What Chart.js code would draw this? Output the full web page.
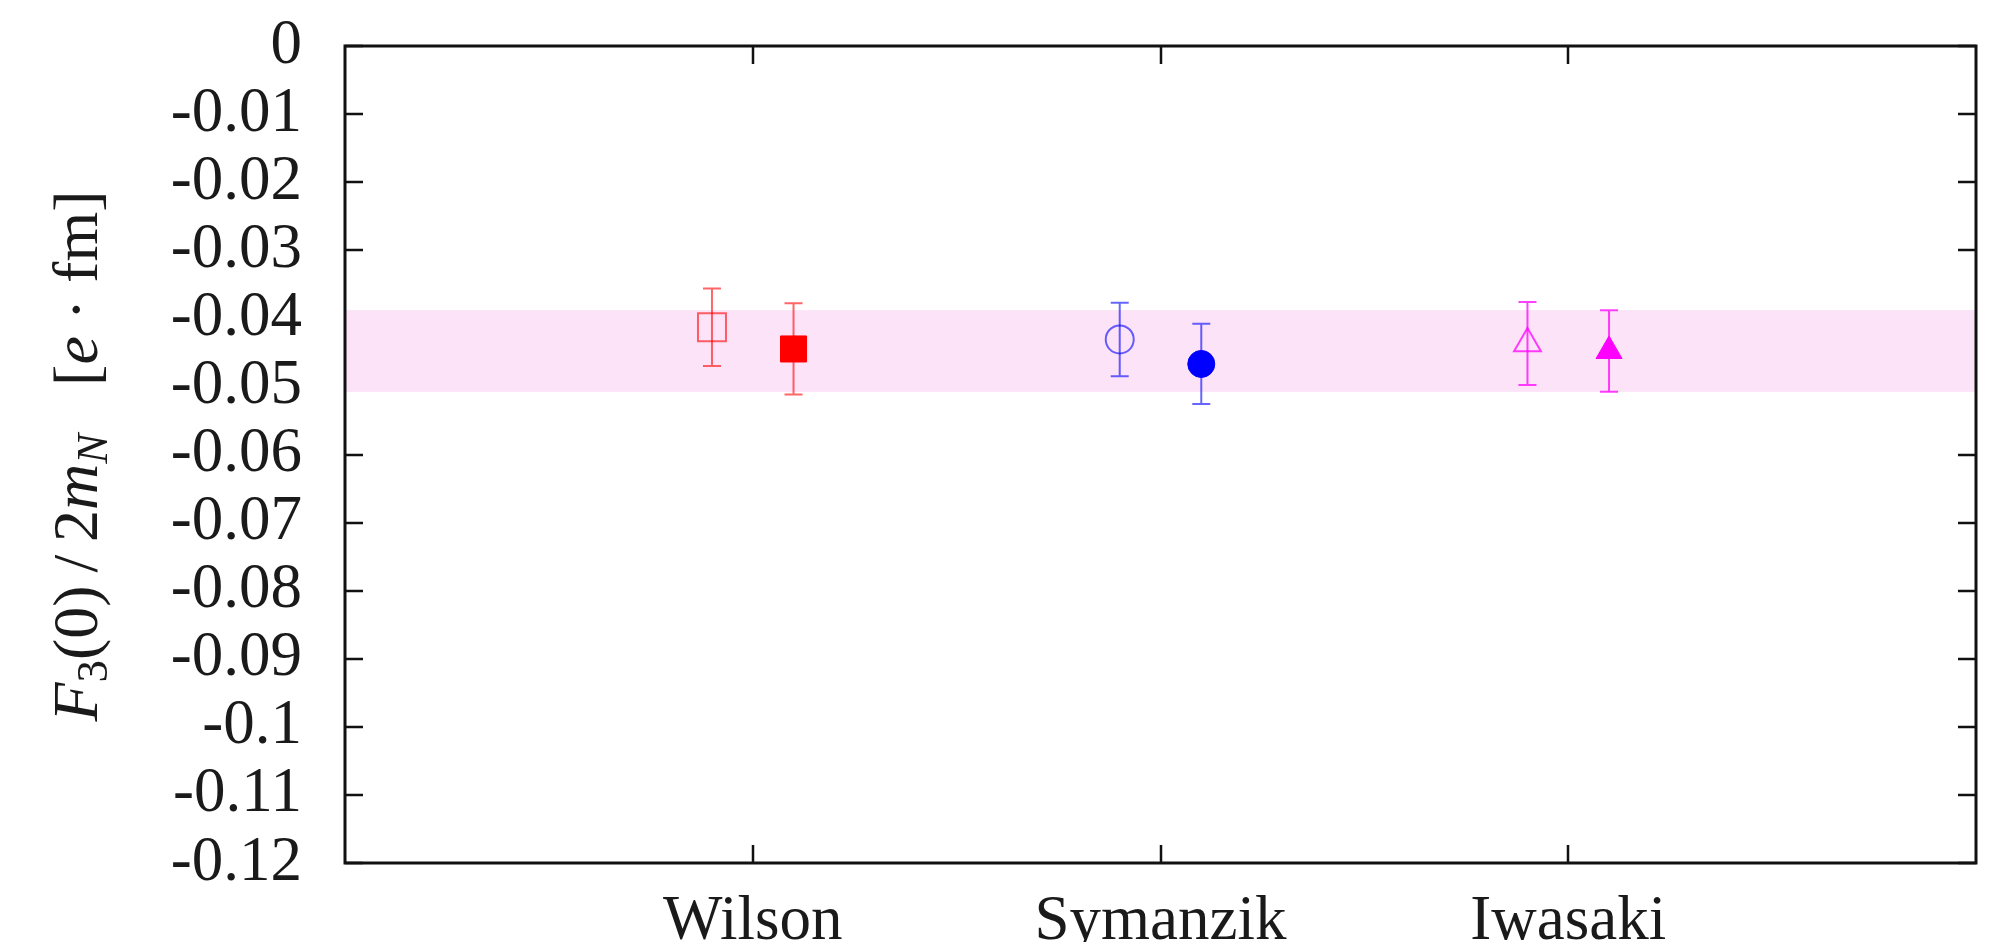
<!DOCTYPE html>
<html>
<head>
<meta charset="utf-8">
<title>F3(0)/2mN</title>
<script src="https://cdn.jsdelivr.net/npm/chart.js@4.4.0/dist/chart.umd.min.js"></script>
<style>
  body { margin: 0; background: #fff; }
  #wrap { width: 1999px; height: 942px; }
</style>
</head>
<body>
<div id="wrap"><canvas id="myChart" width="1999" height="942"></canvas></div>
<script>
// lattice actions on the x axis
const categories = ['Wilson', 'Symanzik', 'Iwasaki'];

// open symbols (left of each tick) and filled symbols (right)
const openValues = [-0.0413, -0.0431, -0.0437];
const openErrors = [0.0057, 0.0054, 0.0061];
const filledValues = [-0.0445, -0.0467, -0.0448];
const filledErrors = [0.0067, 0.0059, 0.0060];

// shaded band (lower, upper)
const bandRange = [-0.0508, -0.0388];

// y axis ticks
const yMin = -0.12;
const yMax = 0;
const yStep = 0.01;

const shift = 0.1;
const solid = ['#ff0000', '#0000ff', '#ff00ff'];
const faint = ['rgba(255,0,0,0.6)', 'rgba(0,0,255,0.6)', 'rgba(255,0,255,0.75)'];
const shapes = ['rect', 'circle', 'triangle'];
const serif = '"Liberation Serif", "Times New Roman", serif';

const framePlugin = {
    id: 'frame',
    beforeDatasetsDraw(chart) {
        const { ctx, chartArea: a, scales: { x, y } } = chart;
        ctx.save();
        // inward ticks
        ctx.strokeStyle = '#111';
        ctx.lineWidth = 2.5;
        ctx.beginPath();
        y.ticks.forEach(t => {
            const py = Math.round(y.getPixelForValue(t.value));
            ctx.moveTo(a.left, py); ctx.lineTo(a.left + 18, py);
            ctx.moveTo(a.right, py); ctx.lineTo(a.right - 18, py);
        });
        x.ticks.forEach(t => {
            const px = Math.round(x.getPixelForValue(t.value));
            ctx.moveTo(px, a.bottom); ctx.lineTo(px, a.bottom - 18);
            ctx.moveTo(px, a.top); ctx.lineTo(px, a.top + 18);
        });
        ctx.stroke();

        // band
        const y1 = y.getPixelForValue(bandRange[1]);
        const y0 = y.getPixelForValue(bandRange[0]);
        ctx.fillStyle = 'rgb(252,227,248)';
        ctx.fillRect(a.left, y1, a.right - a.left, y0 - y1);

        // error bars
        const errs = [openErrors, filledErrors];
        const vals = [openValues, filledValues];
        errs.forEach((errList, d) => {
            const meta = chart.getDatasetMeta(d);
            meta.data.forEach((pt, i) => {
                const top = y.getPixelForValue(vals[d][i] + errList[i]);
                const bot = y.getPixelForValue(vals[d][i] - errList[i]);
                ctx.strokeStyle = faint[i];
                ctx.lineWidth = 2;
                ctx.beginPath();
                ctx.moveTo(pt.x, top); ctx.lineTo(pt.x, bot);
                ctx.moveTo(pt.x - 9, top); ctx.lineTo(pt.x + 9, top);
                ctx.moveTo(pt.x - 9, bot); ctx.lineTo(pt.x + 9, bot);
                ctx.stroke();
            });
        });
        ctx.restore();
    },
    afterDatasetsDraw(chart) {
        const { ctx, chartArea: a } = chart;
        ctx.save();
        ctx.strokeStyle = '#111';
        ctx.lineWidth = 3;
        ctx.strokeRect(a.left, a.top, a.right - a.left, a.bottom - a.top);
        ctx.restore();
    },
    afterDraw(chart) {
        // y axis title with italics and subscripts
        const { ctx } = chart;
        const size = 64;
        const parts = [
            { t: 'F', it: true },
            { t: '3', sub: true },
            { t: '(0)\u2009/\u20092' },
            { t: 'm', it: true },
            { t: 'N', it: true, sub: true },
            { t: '   [' },
            { t: 'e', it: true },
            { t: ' \u00b7 fm]' }
        ];
        const fontOf = p => (p.it ? 'italic ' : '') + (p.sub ? size * 0.7 : size) + 'px ' + serif;
        let total = 0;
        parts.forEach(p => { ctx.font = fontOf(p); p.w = ctx.measureText(p.t).width; total += p.w; });
        ctx.save();
        ctx.translate(97, 456);
        ctx.rotate(-Math.PI / 2);
        ctx.fillStyle = '#1a1a1a';
        ctx.textBaseline = 'alphabetic';
        let cx = -total / 2;
        parts.forEach(p => {
            ctx.font = fontOf(p);
            ctx.fillText(p.t, cx, p.sub ? 10 : 0);
            cx += p.w;
        });
        ctx.restore();
    }
};

const chartContext = document.getElementById('myChart').getContext('2d');
new Chart(chartContext, {
    type: 'scatter',
    data: {
        datasets: [
            {
                data: openValues.map((v, i) => ({ x: i + 1 - shift, y: v })),
                pointStyle: shapes,
                pointRadius: [19.8, 14, 15.5],
                backgroundColor: 'rgba(0,0,0,0)',
                borderColor: faint,
                borderWidth: 2
            },
            {
                data: filledValues.map((v, i) => ({ x: i + 1 + shift, y: v })),
                pointStyle: shapes,
                pointRadius: [18.4, 13.5, 15],
                backgroundColor: solid,
                borderColor: solid,
                borderWidth: 1
            }
        ]
    },
    options: {
        responsive: false,
        devicePixelRatio: 1,
        animation: false,
        layout: { padding: { top: 46, right: 23, left: 0, bottom: 0 } },
        plugins: { legend: { display: false }, tooltip: { enabled: false } },
        scales: {
            x: {
                type: 'linear',
                min: 0,
                max: 4,
                grid: { display: false },
                border: { display: false },
                afterBuildTicks: scale => { scale.ticks = categories.map((c, i) => ({ value: i + 1 })); },
                afterFit: scale => {
                    scale.height = 79;
                    scale.paddingLeft = 0;
                    scale.paddingRight = 0;
                },
                ticks: {
                    autoSkip: false,
                    maxRotation: 0,
                    padding: 14,
                    color: '#1a1a1a',
                    font: { family: serif, size: 63 },
                    callback: v => categories[v - 1] || ''
                }
            },
            y: {
                min: yMin,
                max: yMax,
                grid: { display: false },
                border: { display: false },
                afterFit: scale => {
                    scale.width = 345;
                    scale.paddingTop = 0;
                    scale.paddingBottom = 0;
                },
                ticks: {
                    stepSize: yStep,
                    autoSkip: false,
                    padding: 35,
                    color: '#1a1a1a',
                    font: { family: serif, size: 63 },
                    callback: v => parseFloat(v.toFixed(2)).toString()
                }
            }
        }
    },
    plugins: [framePlugin]
});
</script>
</body>
</html>
